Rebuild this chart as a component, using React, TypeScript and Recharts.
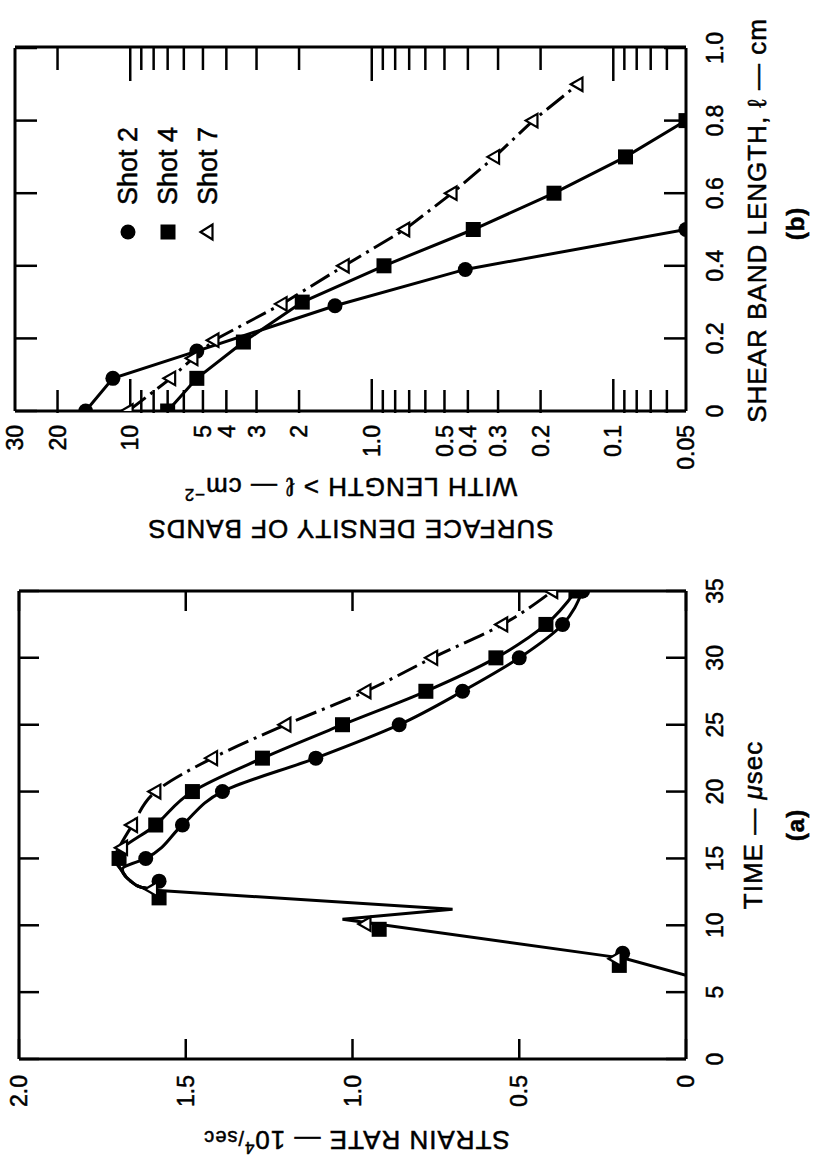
import React from 'react';
import { ComposedChart, Line, Scatter, XAxis, YAxis, Legend } from 'recharts';

const FONT = '"Liberation Sans", Arial, Helvetica, sans-serif';

// ---------- Chart (a): strain rate vs time ----------
const timeTicks = [0, 5, 10, 15, 20, 25, 30, 35];
const strainTicks = [0, 0.5, 1.0, 1.5, 2.0];

const commonT = [6.25, 7.5, 7.75, 10.45, 11.2, 12.6];
const commonS = [0, 0.18, 0.25, 1.03, 0.7, 1.58];

const shot2LineT = [12.6, 12.85, 13.3, 14.2, 15, 17.5, 20, 22.5, 25, 27.5, 30, 32.5, 35];
const shot2LineS = [1.58, 1.635, 1.665, 1.69, 1.62, 1.51, 1.39, 1.11, 0.86, 0.67, 0.5, 0.37, 0.31];
const shot4LineT = [12.6, 12.85, 13.3, 14.2, 15, 17.5, 20, 22.5, 25, 27.5, 30, 32.5, 35];
const shot4LineS = [1.58, 1.635, 1.665, 1.695, 1.71, 1.59, 1.48, 1.27, 1.03, 0.78, 0.57, 0.42, 0.33];
const shot7LineT = [12.6, 12.85, 13.3, 14.2, 15, 15.8, 17.5, 20, 22.5, 25, 27.5, 30, 32.5, 35];
const shot7LineS = [1.58, 1.635, 1.665, 1.695, 1.715, 1.7, 1.66, 1.59, 1.42, 1.2, 0.96, 0.76, 0.55, 0.4];

const shot2MarkT = [7.9, 13.3, 15, 17.5, 20, 22.5, 25, 27.5, 30, 32.5, 35];
const shot2MarkS = [0.19, 1.58, 1.62, 1.51, 1.39, 1.11, 0.86, 0.67, 0.5, 0.37, 0.31];
const shot4MarkT = [7.0, 9.7, 12.05, 15, 17.5, 20, 22.5, 25, 27.5, 30, 32.5, 35];
const shot4MarkS = [0.2, 0.92, 1.58, 1.7, 1.59, 1.48, 1.27, 1.03, 0.78, 0.57, 0.42, 0.33];
const shot7MarkT = [7.5, 10.1, 12.7, 15.8, 17.5, 20, 22.5, 25, 27.5, 30, 32.5, 35];
const shot7MarkS = [0.21, 0.96, 1.6, 1.69, 1.66, 1.59, 1.42, 1.2, 0.96, 0.76, 0.55, 0.4];

// ---------- Chart (b): surface density vs shear band length ----------
const lenTicks = [0, 0.2, 0.4, 0.6, 0.8, 1.0];
const lenLabels = ['0', '0.2', '0.4', '0.6', '0.8', '1.0'];
const densityLabelTicks = [30, 20, 10, 5, 4, 3, 2, 1, 0.5, 0.4, 0.3, 0.2, 0.1, 0.05];
const densityLabels = ['30', '20', '10', '5', '4', '3', '2', '1.0', '0.5', '0.4', '0.3', '0.2', '0.1', '0.05'];
const densityMinorTicks = [20, 9, 8, 7, 6, 5, 4, 3, 2, 0.9, 0.8, 0.7, 0.6, 0.5, 0.4, 0.3, 0.2, 0.09, 0.08, 0.07, 0.06];
const densityMajorTicks = [10, 1, 0.1];

const shot2L = [0, 0.09, 0.165, 0.29, 0.39, 0.5];
const shot2D = [15.3, 11.8, 5.3, 1.42, 0.41, 0.05];
const shot4L = [0, 0.09, 0.19, 0.3, 0.4, 0.5, 0.6, 0.7, 0.8];
const shot4D = [7.0, 5.3, 3.4, 1.94, 0.89, 0.38, 0.176, 0.089, 0.05];
const shot7L = [0, 0.09, 0.145, 0.195, 0.295, 0.4, 0.5, 0.6, 0.7, 0.8, 0.9];
const shot7D = [10.2, 6.8, 5.5, 4.5, 2.35, 1.3, 0.73, 0.465, 0.31, 0.215, 0.14];

const seriesNames = ['Shot 2', 'Shot 4', 'Shot 7'];

const ta = (xs: number[], ys: number[]) => xs.map((t, i) => ({ t, s: ys[i] }));
const tb = (xs: number[], ys: number[]) => xs.map((L, i) => ({ L, d: ys[i] }));

const circleShape = (r: number) => (p: any) => <circle cx={p.cx} cy={p.cy} r={r} fill="#000" />;
const squareShape = (s: number) => (p: any) => (
  <rect x={p.cx - s / 2} y={p.cy - s / 2} width={s} height={s} fill="#000" />
);
const triShape = (s: number) => (p: any) => {
  const h = s * 0.87;
  return (
    <polygon
      points={`${p.cx},${p.cy - h * 0.62} ${p.cx - s / 2},${p.cy + h * 0.38} ${p.cx + s / 2},${p.cy + h * 0.38}`}
      fill="#fff"
      stroke="#000"
      strokeWidth={2.2}
      strokeLinejoin="miter"
    />
  );
};

const AX = { stroke: '#000', strokeWidth: 3 };
const TL = { stroke: '#000', strokeWidth: 2.5 };
const tickText = { fill: '#000', fontSize: 23, fontFamily: FONT, stroke: '#000', strokeWidth: 0.5 };
const noTick = () => <g />;
const titleStyle: any = { fill: '#000', fontFamily: FONT, stroke: '#000', strokeWidth: 0.5, letterSpacing: 1 };

const fmt1 = (v: number) => (v === 0 ? '0' : v.toFixed(1));

function ChartA() {
  const timeTitle = () => {
    const cx = 103 + 468 / 2;
    const y0 = 686;
    return (
      <g>
        <text x={cx} y={y0 + 76} textAnchor="middle" fontSize={26} {...titleStyle}>
          TIME — <tspan fontStyle="italic">μ</tspan>sec
        </text>
        <text x={cx} y={y0 + 118} textAnchor="middle" fontSize={24} fontWeight="bold" {...titleStyle}>
          (a)
        </text>
      </g>
    );
  };
  const strainTitle = () => {
    const x = 31;
    const y = 19 + 667 / 2 + 4;
    return (
      <text x={x} y={y} textAnchor="middle" fontSize={26} transform={`rotate(-90, ${x}, ${y})`} {...titleStyle}>
        STRAIN RATE — 10<tspan fontSize={17} dy={-11}>4</tspan>
        <tspan fontSize={20} dy={11}>/sec</tspan>
      </text>
    );
  };
  const timeAxis = {
    dataKey: 't',
    type: 'number' as const,
    domain: [0, 35] as [number, number],
    ticks: timeTicks,
    interval: 0 as const,
    allowDataOverflow: true,
    height: 1,
    stroke: '#000',
    axisLine: AX,
    tickLine: TL,
  };
  const strainAxis = {
    type: 'number' as const,
    domain: [0, 2] as [number, number],
    ticks: strainTicks,
    interval: 0 as const,
    allowDataOverflow: true,
    width: 1,
    stroke: '#000',
    axisLine: AX,
    tickLine: TL,
  };
  return (
    <ComposedChart width={600} height={816} margin={{ top: 18, right: 28, bottom: 129, left: 102 }}>
      <XAxis xAxisId="xb" {...timeAxis} orientation="bottom" tickSize={-20} tickMargin={41} tick={tickText} label={timeTitle} />
      <XAxis xAxisId="xt" {...timeAxis} orientation="top" tickSize={-20} tick={noTick} />
      <YAxis yAxisId="yl" dataKey="s" {...strainAxis} orientation="left" tickSize={-20} tickMargin={36} tick={tickText} tickFormatter={fmt1} label={strainTitle} />
      <YAxis yAxisId="yr" dataKey="s" {...strainAxis} orientation="right" tickSize={-20} tick={noTick} />
      <Line xAxisId="xt" yAxisId="yr" data={ta(commonT, commonS)} dataKey="s" type="linear" stroke="#000" strokeWidth={3} dot={false} isAnimationActive={false} />
      <Line xAxisId="xb" yAxisId="yl" data={ta(shot2LineT, shot2LineS)} dataKey="s" type="monotone" stroke="#000" strokeWidth={3} dot={false} isAnimationActive={false} />
      <Line xAxisId="xb" yAxisId="yl" data={ta(shot4LineT, shot4LineS)} dataKey="s" type="monotone" stroke="#000" strokeWidth={3} dot={false} isAnimationActive={false} />
      <Line xAxisId="xb" yAxisId="yl" data={ta(shot7LineT, shot7LineS)} dataKey="s" type="monotone" stroke="#000" strokeWidth={3} strokeDasharray="22 6 3 6" dot={false} isAnimationActive={false} />
      <Scatter xAxisId="xb" yAxisId="yl" data={ta(shot2MarkT, shot2MarkS)} dataKey="s" shape={circleShape(7.5)} isAnimationActive={false} />
      <Scatter xAxisId="xb" yAxisId="yl" data={ta(shot4MarkT, shot4MarkS)} dataKey="s" shape={squareShape(15)} isAnimationActive={false} />
      <Scatter xAxisId="xb" yAxisId="yl" data={ta(shot7MarkT, shot7MarkS)} dataKey="s" shape={triShape(14)} isAnimationActive={false} />
    </ComposedChart>
  );
}

function LegendBox() {
  const marks = [
    <circle cx={12} cy={12} r={7.5} fill="#000" />,
    <rect x={4.5} y={4.5} width={15} height={15} fill="#000" />,
    <polygon points="12,4.5 4.5,16.5 19.5,16.5" fill="#fff" stroke="#000" strokeWidth={2.2} />,
  ];
  return (
    <div style={{ fontFamily: FONT, fontSize: 27, color: '#000', WebkitTextStroke: '0.5px #000' }}>
      {seriesNames.map((n, i) => (
        <div key={n} style={{ display: 'flex', alignItems: 'center', height: 40 }}>
          <svg width={24} height={24} style={{ display: 'block' }}>{marks[i]}</svg>
          <span style={{ marginLeft: 15, lineHeight: '40px' }}>{n}</span>
        </div>
      ))}
    </div>
  );
}

function ChartB() {
  const lenTitle = () => {
    const cx = 151 + 363 / 2 + 9;
    const y0 = 686;
    return (
      <g>
        <text x={cx} y={y0 + 80} textAnchor="middle" fontSize={26} {...titleStyle}>
          SHEAR BAND LENGTH, ℓ — cm
        </text>
        <text x={cx - 3} y={y0 + 118} textAnchor="middle" fontSize={24} fontWeight="bold" {...titleStyle}>
          (b)
        </text>
      </g>
    );
  };
  const densTitle = () => {
    const y = 15 + 671 / 2;
    const x1 = 42;
    const x2 = 84;
    return (
      <g>
        <text x={x1} y={y} textAnchor="middle" fontSize={26} transform={`rotate(-90, ${x1}, ${y})`} {...titleStyle}>
          SURFACE DENSITY OF BANDS
        </text>
        <text x={x2} y={y} textAnchor="middle" fontSize={26} transform={`rotate(-90, ${x2}, ${y})`} {...titleStyle}>
          WITH LENGTH &gt; ℓ — cm<tspan fontSize={17} dy={-11}>−2</tspan>
        </text>
      </g>
    );
  };
  const logAxis = {
    dataKey: 'd',
    type: 'number' as const,
    scale: 'log' as const,
    domain: [0.05, 30] as [number, number],
    allowDataOverflow: true,
    interval: 0 as const,
    width: 1,
    stroke: '#000',
  };
  const lenAxis = {
    dataKey: 'L',
    type: 'number' as const,
    domain: [0, 1] as [number, number],
    ticks: lenTicks,
    allowDataOverflow: true,
    interval: 0 as const,
    height: 1,
    stroke: '#000',
    axisLine: AX,
    tickLine: TL,
  };
  return (
    <ComposedChart width={562} height={816} margin={{ top: 14, right: 46, bottom: 129, left: 148 }}>
      <XAxis
        xAxisId="xb"
        {...lenAxis}
        orientation="bottom"
        tickSize={-22}
        tickMargin={43}
        tick={tickText}
        tickFormatter={(v: number) => lenLabels[lenTicks.indexOf(v)] ?? String(v)}
        label={lenTitle}
      />
      <XAxis xAxisId="xt" {...lenAxis} orientation="top" tickSize={-22} tick={noTick} />
      <YAxis
        yAxisId="yl"
        {...logAxis}
        orientation="left"
        ticks={densityLabelTicks}
        tickSize={0}
        tickMargin={14}
        axisLine={AX}
        tickLine={false}
        tick={tickText}
        tickFormatter={(v: number) => densityLabels[densityLabelTicks.indexOf(v)] ?? String(v)}
        label={densTitle}
      />
      <YAxis yAxisId="ylm" {...logAxis} orientation="left" ticks={densityMinorTicks} tickSize={-23} axisLine={false} tickLine={TL} tick={noTick} />
      <YAxis yAxisId="ylM" {...logAxis} orientation="left" ticks={densityMajorTicks} tickSize={-33} axisLine={false} tickLine={TL} tick={noTick} />
      <YAxis yAxisId="yrm" {...logAxis} orientation="right" ticks={densityMinorTicks} tickSize={-23} axisLine={AX} tickLine={TL} tick={noTick} />
      <YAxis yAxisId="yrM" {...logAxis} orientation="right" ticks={densityMajorTicks} tickSize={-33} axisLine={false} tickLine={TL} tick={noTick} />
      <Line xAxisId="xt" yAxisId="yl" data={tb(shot2L, shot2D)} dataKey="d" name={seriesNames[0]} type="linear" stroke="#000" strokeWidth={3} dot={false} isAnimationActive={false} />
      <Line xAxisId="xb" yAxisId="yl" data={tb(shot4L, shot4D)} dataKey="d" name={seriesNames[1]} type="linear" stroke="#000" strokeWidth={3} dot={false} isAnimationActive={false} />
      <Line xAxisId="xb" yAxisId="yl" data={tb(shot7L, shot7D)} dataKey="d" name={seriesNames[2]} type="linear" stroke="#000" strokeWidth={3} strokeDasharray="22 6 3 6" dot={false} isAnimationActive={false} />
      <Scatter xAxisId="xb" yAxisId="yl" data={tb(shot2L, shot2D)} dataKey="d" shape={circleShape(7.5)} isAnimationActive={false} legendType="none" />
      <Scatter xAxisId="xb" yAxisId="yl" data={tb(shot4L, shot4D)} dataKey="d" shape={squareShape(15)} isAnimationActive={false} legendType="none" />
      <Scatter xAxisId="xb" yAxisId="yl" data={tb(shot7L, shot7D)} dataKey="d" shape={triShape(13.5)} isAnimationActive={false} legendType="none" />
      <Legend
        layout="vertical"
        align="center"
        verticalAlign="middle"
        wrapperStyle={{ position: 'absolute', left: 318, top: 108, width: 200, height: 120 }}
        content={() => <LegendBox />}
      />
    </ComposedChart>
  );
}

export default function App() {
  return (
    <div style={{ position: 'absolute', left: 0, top: 0, width: 816, height: 1162, overflow: 'hidden', background: '#fff' }}>
      <div
        style={{
          position: 'absolute',
          left: 0,
          top: 0,
          width: 1162,
          height: 816,
          transformOrigin: '0 0',
          transform: 'translate(0px, 1162px) rotate(-90deg)',
          fontFamily: FONT,
        }}
      >
        <div style={{ position: 'absolute', left: 0, top: 0 }}>
          <ChartA />
        </div>
        <div style={{ position: 'absolute', left: 600, top: 0 }}>
          <ChartB />
        </div>
      </div>
    </div>
  );
}
